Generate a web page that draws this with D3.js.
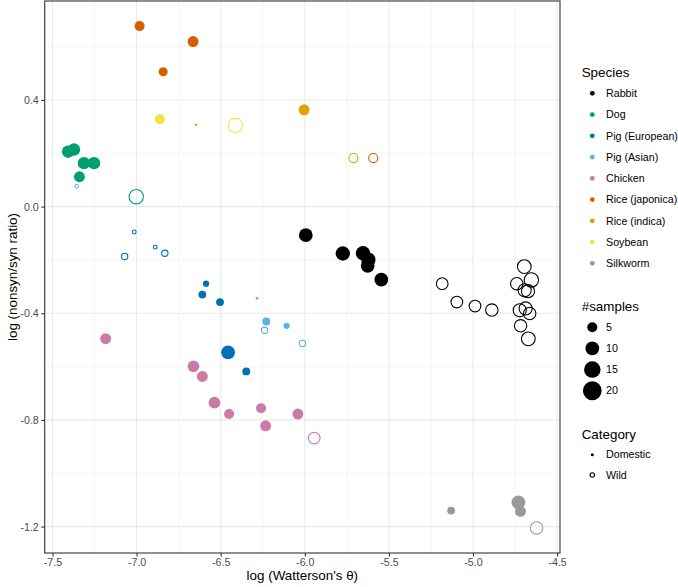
<!DOCTYPE html>
<html>
<head>
<meta charset="utf-8">
<script src="https://cdn.jsdelivr.net/npm/d3@7"></script>
<style>
  html, body { margin: 0; padding: 0; background: #fff; }
  svg { display: block; font-family: "Liberation Sans", Arial, Helvetica, sans-serif; }
</style>
</head>
<body>
<svg id="chart" width="678" height="587"></svg>
<script>
// ---------------- data ----------------
const speciesNames = ["Rabbit", "Dog", "Pig (European)", "Pig (Asian)", "Chicken",
  "Rice (japonica)", "Rice (indica)", "Soybean", "Silkworm"];
const speciesColors = ["#000000", "#009E73", "#0072B2", "#56B4E9", "#CC79A7",
  "#D55E00", "#E69F00", "#F0E442", "#999999"];
const categoryNames = ["Domestic", "Wild"];

const pointSpecies = [
  "Rabbit","Rabbit","Rabbit","Rabbit","Rabbit","Rabbit",
  "Rabbit","Rabbit","Rabbit","Rabbit","Rabbit","Rabbit","Rabbit","Rabbit","Rabbit","Rabbit","Rabbit","Rabbit","Rabbit","Rabbit",
  "Dog","Dog","Dog","Dog","Dog","Dog",
  "Pig (European)","Pig (European)","Pig (European)","Pig (European)","Pig (European)",
  "Pig (European)","Pig (European)","Pig (European)","Pig (European)",
  "Pig (Asian)","Pig (Asian)","Pig (Asian)","Pig (Asian)","Pig (Asian)","Pig (Asian)",
  "Chicken","Chicken","Chicken","Chicken","Chicken","Chicken","Chicken","Chicken","Chicken",
  "Rice (japonica)","Rice (japonica)","Rice (japonica)","Rice (japonica)",
  "Rice (indica)","Rice (indica)","Rice (indica)",
  "Soybean","Soybean",
  "Silkworm","Silkworm","Silkworm","Silkworm"
];
const pointCategory = [
  "Domestic","Domestic","Domestic","Domestic","Domestic","Domestic",
  "Wild","Wild","Wild","Wild","Wild","Wild","Wild","Wild","Wild","Wild","Wild","Wild","Wild","Wild",
  "Domestic","Domestic","Domestic","Domestic","Domestic","Wild",
  "Domestic","Domestic","Domestic","Domestic","Domestic",
  "Wild","Wild","Wild","Wild",
  "Domestic","Domestic","Domestic","Wild","Wild","Wild",
  "Domestic","Domestic","Domestic","Domestic","Domestic","Domestic","Domestic","Domestic","Wild",
  "Domestic","Domestic","Domestic","Wild",
  "Domestic","Domestic","Wild",
  "Domestic","Wild",
  "Domestic","Domestic","Domestic","Wild"
];
const logTheta = [
  -5.994,-5.774,-5.654,-5.622,-5.626,-5.545,
  -5.183,-5.096,-4.988,-4.888,-4.695,-4.653,-4.740,-4.693,-4.673,-4.722,-4.687,-4.663,-4.717,-4.671,
  -7.407,-7.372,-7.313,-7.253,-7.340,-7.002,
  -6.587,-6.609,-6.504,-6.456,-6.348,
  -7.014,-7.071,-6.889,-6.832,
  -6.284,-6.229,-6.108,-7.356,-6.239,-6.014,
  -7.184,-6.662,-6.609,-6.537,-6.450,-6.260,-6.233,-6.041,-5.944,
  -6.982,-6.664,-6.842,-5.593,
  -6.004,-6.646,-5.711,
  -6.862,-6.413,
  -5.130,-4.730,-4.718,-4.622
];
const logRatio = [
  -0.107,-0.176,-0.175,-0.199,-0.222,-0.274,
  -0.289,-0.358,-0.373,-0.388,-0.225,-0.275,-0.289,-0.314,-0.317,-0.389,-0.382,-0.401,-0.447,-0.496,
  0.206,0.214,0.163,0.163,0.112,0.037,
  -0.289,-0.330,-0.358,-0.547,-0.618,
  -0.095,-0.187,-0.152,-0.175,
  -0.344,-0.431,-0.447,0.076,-0.464,-0.513,
  -0.495,-0.599,-0.637,-0.735,-0.778,-0.756,-0.822,-0.778,-0.868,
  0.677,0.619,0.506,0.182,
  0.363,0.307,0.182,
  0.328,0.305,
  -1.140,-1.109,-1.143,-1.205
];
const nSamples = [
  10,11,11,11,10,10,
  7,7,7,8,10,11,8,9,9,9,9,8,8,10,
  8,8,8,8,6,11,
  2,3,3,10,3,
  1,2,1,2,
  1,3,2,1,2,2,
  6,7,6,7,5,5,6,6,7,
  5,6,4,4,
  6,1,4,
  5,11,
  3,10,6,8
];
const xTicks = [-7.5, -7.0, -6.5, -6.0, -5.5, -5.0, -4.5];
const xTickLabels = ["-7.5", "-7.0", "-6.5", "-6.0", "-5.5", "-5.0", "-4.5"];
const xMinor = [-7.25, -6.75, -6.25, -5.75, -5.25, -4.75];
const yTicks = [-1.2, -0.8, -0.4, 0.0, 0.4];
const yTickLabels = ["-1.2", "-0.8", "-0.4", "0.0", "0.4"];
const yMinor = [-1.0, -0.6, -0.2, 0.2, 0.6];
const sizeBreaks = [5, 10, 15, 20];
const sizeRange = [1, 21];

// ---------------- layout ----------------
const svg = d3.select("#chart");
const W = 678, H = 587;
const panel = { left: 44.7, right: 560, top: 1, bottom: 553 };
svg.append("rect").attr("width", W).attr("height", H).attr("fill", "#fff");

const points = logTheta.map((x, i) => ({
  x, y: logRatio[i], n: nSamples[i], sp: pointSpecies[i], cat: pointCategory[i]
}));

function expand(ext, f) { const r = ext[1] - ext[0]; return [ext[0] - r * f, ext[1] + r * f]; }
const x = d3.scaleLinear().domain(expand(d3.extent(logTheta), 0.05)).range([panel.left, panel.right]);
const y = d3.scaleLinear().domain(expand(d3.extent(logRatio), 0.05)).range([panel.bottom, panel.top]);
const color = d3.scaleOrdinal().domain(speciesNames).range(speciesColors);
const rMin = 1.3, rMax = 9.6;
const r = n => rMin + (rMax - rMin) * Math.sqrt(Math.max(0, (n - sizeRange[0]) / (sizeRange[1] - sizeRange[0])));

const g = svg.append("g");
// grid
const gridColor = "#EBEBEB";
g.selectAll(".xminor").data(xMinor).join("line")
  .attr("x1", d => x(d)).attr("x2", d => x(d)).attr("y1", panel.top).attr("y2", panel.bottom)
  .attr("stroke", gridColor).attr("stroke-width", 0.55);
g.selectAll(".yminor").data(yMinor).join("line")
  .attr("y1", d => y(d)).attr("y2", d => y(d)).attr("x1", panel.left).attr("x2", panel.right)
  .attr("stroke", gridColor).attr("stroke-width", 0.55);
g.selectAll(".xmajor").data(xTicks).join("line")
  .attr("x1", d => x(d)).attr("x2", d => x(d)).attr("y1", panel.top).attr("y2", panel.bottom)
  .attr("stroke", gridColor).attr("stroke-width", 1.1);
g.selectAll(".ymajor").data(yTicks).join("line")
  .attr("y1", d => y(d)).attr("y2", d => y(d)).attr("x1", panel.left).attr("x2", panel.right)
  .attr("stroke", gridColor).attr("stroke-width", 1.1);

// points
g.selectAll(".pt").data(points).join("circle")
  .attr("cx", d => x(d.x)).attr("cy", d => y(d.y))
  .attr("r", d => d.cat === "Wild" ? Math.max(1.9, r(d.n)) : r(d.n))
  .attr("fill", d => d.cat === "Wild" ? "none" : color(d.sp))
  .attr("stroke", d => d.cat === "Wild" ? color(d.sp) : "none")
  .attr("stroke-width", 1.1);

// border
svg.append("rect").attr("x", panel.left).attr("y", panel.top)
  .attr("width", panel.right - panel.left).attr("height", panel.bottom - panel.top)
  .attr("fill", "none").attr("stroke", "#333333").attr("stroke-width", 1.1);

// axes
const xAxis = d3.axisBottom(x).tickValues(xTicks).tickFormat((d, i) => xTickLabels[i]).tickSizeOuter(0).tickSize(3.4).tickPadding(2.5);
const yAxis = d3.axisLeft(y).tickValues(yTicks).tickFormat((d, i) => yTickLabels[i]).tickSizeOuter(0).tickSize(3.4).tickPadding(2.5);
const gx = svg.append("g").attr("transform", `translate(0,${panel.bottom})`).call(xAxis);
const gy = svg.append("g").attr("transform", `translate(${panel.left},0)`).call(yAxis);
[gx, gy].forEach(a => {
  a.select(".domain").remove();
  a.selectAll(".tick line").attr("stroke", "#333333").attr("stroke-width", 1.1);
  a.selectAll(".tick text").attr("fill", "#4D4D4D").attr("font-size", "10.7px")
    .attr("font-family", "Liberation Sans, Arial, sans-serif");
});

svg.append("text").attr("x", (panel.left + panel.right) / 2).attr("y", 580)
  .attr("text-anchor", "middle").attr("font-size", "13.4px").attr("fill", "#000")
  .text("log (Watterson's θ)");
svg.append("text").attr("transform", `translate(17,${(panel.top + panel.bottom) / 2}) rotate(-90)`)
  .attr("text-anchor", "middle").attr("font-size", "13.4px").attr("fill", "#000")
  .text("log (nonsyn/syn ratio)");

// legends
const keyX = 592.3, labX = 606, titleX = 581.7;
function title(t, yc) {
  svg.append("text").attr("x", titleX).attr("y", yc).attr("dy", "0.35em")
    .attr("font-size", "13.4px").attr("fill", "#000").text(t);
}
function label(t, yc) {
  svg.append("text").attr("x", labX).attr("y", yc).attr("dy", "0.35em")
    .attr("font-size", "10.7px").attr("fill", "#000").text(t);
}
title("Species", 72.7);
speciesNames.forEach((s, i) => {
  const yc = 93.3 + i * 21.25;
  svg.append("circle").attr("cx", keyX).attr("cy", yc).attr("r", 2.4).attr("fill", color(s));
  label(s, yc);
});
title("#samples", 306.7);
sizeBreaks.forEach((b, i) => {
  const yc = 327.3 + i * 21.15;
  svg.append("circle").attr("cx", keyX).attr("cy", yc).attr("r", r(b)).attr("fill", "#000");
  label(String(b), yc);
});
title("Category", 434.3);
categoryNames.forEach((c, i) => {
  const yc = 454.7 + i * 20.3;
  if (c === "Wild") {
    svg.append("circle").attr("cx", keyX).attr("cy", yc).attr("r", 2.2)
      .attr("fill", "none").attr("stroke", "#000").attr("stroke-width", 1.1);
  } else {
    svg.append("circle").attr("cx", keyX).attr("cy", yc).attr("r", 1.5).attr("fill", "#000");
  }
  label(c, yc);
});
</script>
</body>
</html>
